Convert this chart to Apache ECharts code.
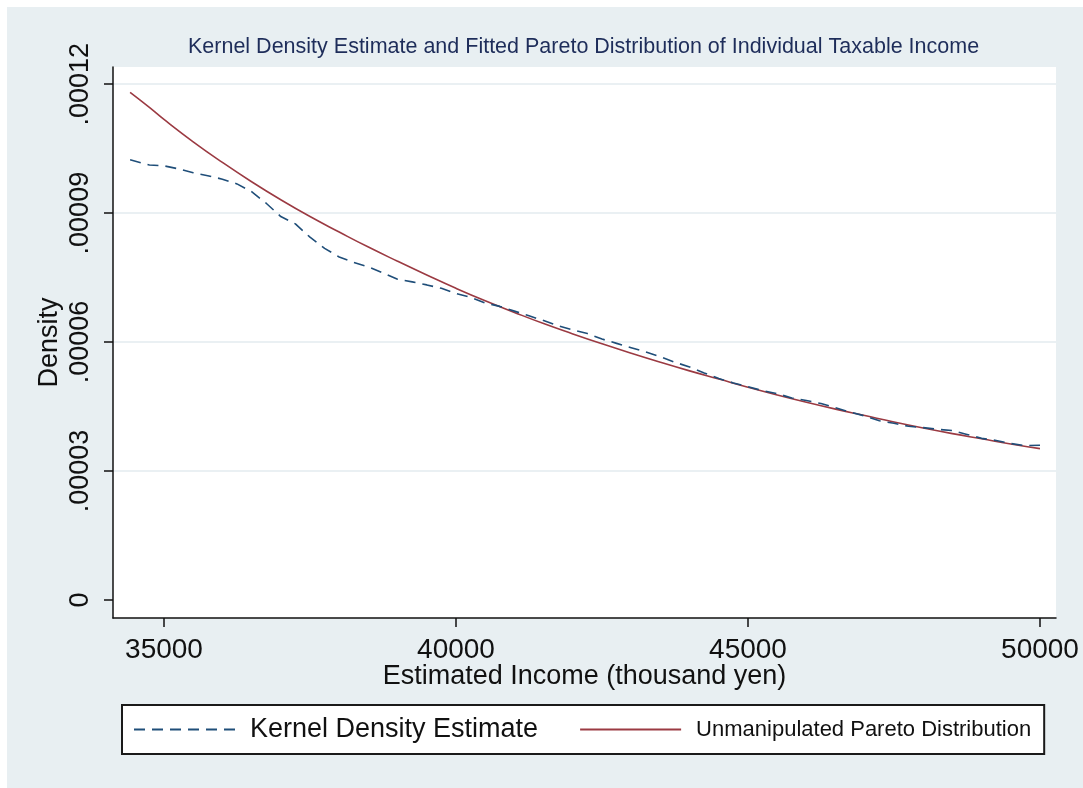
<!DOCTYPE html>
<html>
<head>
<meta charset="utf-8">
<title>Kernel Density Estimate and Fitted Pareto Distribution</title>
<script src="https://cdn.jsdelivr.net/npm/echarts@6/dist/echarts.min.js"></script>
<style>
  html, body { margin: 0; padding: 0; width: 1083px; height: 788px; overflow: hidden; background: #e8eff2; }
  /* thin white frame along the top and left edges */
  body::before { content: ''; position: absolute; left: 0; top: 0; width: 1083px; height: 7px; background: #ffffff; z-index: 2; }
  body::after { content: ''; position: absolute; left: 0; top: 0; width: 7px; height: 788px; background: #ffffff; z-index: 2; }
  #chart { position: absolute; left: 7px; top: 7px; width: 1076px; height: 781px; }
</style>
</head>
<body>
<div id="chart"></div>
<script>
// Income grid (thousand yen) for the kernel density estimate
const kdeIncome = [34420, 34750,
  35000, 35250, 35500, 35750, 36000, 36250, 36500, 36750, 37000, 37250,
  37500, 37750, 38000, 38250, 38500, 38750, 39000, 39250, 39500, 39750,
  40000, 40250, 40500, 40750, 41000, 41250, 41500, 41750, 42000, 42250,
  42500, 42750, 43000, 43250, 43500, 43750, 44000, 44250, 44500, 44750,
  45000, 45250, 45500, 45750, 46000, 46250, 46500, 46750, 47000, 47250,
  47500, 47750, 48000, 48250, 48500, 48750, 49000, 49250, 49500, 49750,
  50000];
const kdeDensity = [0.0001024, 0.0001012,
  0.0001010, 0.0001003, 0.0000994, 0.0000987, 0.0000979, 0.0000968, 0.0000950, 0.0000923, 0.0000892, 0.0000875,
  0.0000844, 0.0000818, 0.0000798, 0.0000785, 0.0000775, 0.0000761, 0.0000746, 0.0000740, 0.0000733, 0.0000725,
  0.0000713, 0.0000704, 0.0000691, 0.0000683, 0.0000672, 0.0000661, 0.0000650, 0.0000638, 0.0000628, 0.0000620,
  0.0000607, 0.0000597, 0.0000587, 0.0000577, 0.0000566, 0.0000553, 0.0000542, 0.0000528, 0.0000515, 0.0000505,
  0.0000496, 0.0000487, 0.0000480, 0.0000470, 0.0000464, 0.0000457, 0.0000447, 0.0000437, 0.0000428, 0.0000417,
  0.0000411, 0.0000404, 0.0000401, 0.0000397, 0.0000394, 0.0000385, 0.0000376, 0.0000371, 0.0000364, 0.0000359,
  0.0000360];

// Fitted (unmanipulated) Pareto density
const paretoIncome = [34420, 34750, 35000, 35500, 36000, 36500, 37000, 37500,
  38000, 38500, 39000, 39500, 40000, 40500, 41000, 41500, 42000, 42500,
  43000, 43500, 44000, 44500, 45000, 45500, 46000, 46500, 47000, 47500,
  48000, 48500, 49000, 49500, 50000];
const paretoDensity = [0.0001181, 0.0001146, 0.0001118, 0.0001066, 0.0001018, 0.0000973, 0.0000931, 0.0000892,
  0.0000856, 0.0000821, 0.0000788, 0.0000756, 0.0000725, 0.0000696, 0.0000669, 0.0000643, 0.0000619, 0.0000596,
  0.0000574, 0.0000553, 0.0000533, 0.0000514, 0.0000495, 0.0000477, 0.0000460, 0.0000444, 0.0000429, 0.0000414,
  0.0000400, 0.0000387, 0.0000375, 0.0000363, 0.0000352];

// Axis tick positions
const xTicks = [35000, 40000, 45000, 50000];
const yTicks = [0, 0.00003, 0.00006, 0.00009, 0.00012];

const seriesNames = ['Kernel Density Estimate', 'Unmanipulated Pareto Distribution'];
const titleText = 'Kernel Density Estimate and Fitted Pareto Distribution of Individual Taxable Income';

const FONT = 'Liberation Sans, Arial, sans-serif';
const INK = '#111111';
const KDE_COLOR = '#1f4e79';
const PARETO_COLOR = '#9b3a42';
const GRID_LINE = '#e3ebef';

const pairs = (xs, ys) => xs.map((x, i) => [x, ys[i]]);

const chart = echarts.init(document.getElementById('chart'), null, { renderer: 'canvas' });

chart.setOption({
  backgroundColor: '#e8eff2',
  animation: false,
  title: {
    text: titleText,
    left: 181,
    top: 29,
    padding: 0,
    textStyle: { fontFamily: FONT, fontSize: 21.5, fontWeight: 'normal', color: '#1e2d5a' }
  },
  grid: {
    left: 106, top: 60, width: 943, height: 551,
    show: true, backgroundColor: '#ffffff', borderWidth: 0
  },
  xAxis: {
    type: 'value',
    min: 34127, max: 50274,
    name: 'Estimated Income (thousand yen)',
    nameLocation: 'middle',
    nameGap: 45,
    nameMoveOverlap: false,
    nameTextStyle: { fontFamily: FONT, fontSize: 27, color: INK },
    axisLine: { show: true, onZero: false, lineStyle: { color: INK, width: 1.5 } },
    axisTick: { show: true, length: 9, customValues: xTicks, lineStyle: { color: INK, width: 1.5 } },
    axisLabel: {
      customValues: xTicks,
      fontFamily: FONT, fontSize: 28, color: INK, margin: 18,
      formatter: v => String(v)
    },
    splitLine: { show: false }
  },
  yAxis: {
    type: 'value',
    min: -0.0000042, max: 0.000124,
    name: 'Density',
    nameLocation: 'middle',
    nameGap: 50,
    nameMoveOverlap: false,
    nameTextStyle: { fontFamily: FONT, fontSize: 27, color: INK },
    axisLine: { show: true, onZero: false, lineStyle: { color: INK, width: 1.5 } },
    axisTick: { show: true, length: 9, customValues: yTicks, lineStyle: { color: INK, width: 1.5 } },
    axisLabel: {
      customValues: yTicks,
      rotate: 90,
      margin: 19,
      fontFamily: FONT, fontSize: 27, color: INK,
      formatter: v => (v === 0 ? '0' : v.toFixed(5).replace(/^0/, ''))
    },
    splitLine: {
      show: true,
      lineStyle: { color: ['rgba(0,0,0,0)', GRID_LINE, GRID_LINE, GRID_LINE, GRID_LINE], width: 1.5 }
    }
  },
  legend: {
    left: 115, top: 698,
    orient: 'horizontal',
    backgroundColor: '#ffffff',
    borderColor: '#1a1a1a',
    borderWidth: 2,
    borderRadius: 0,
    padding: [11, 13, 11, 11],
    itemGap: 41,
    itemWidth: 101,
    itemHeight: 4,
    itemStyle: { opacity: 0 },
    textStyle: { fontFamily: FONT, color: INK, padding: [0, 0, 0, 10] },
    data: [
      { name: seriesNames[0], textStyle: { fontSize: 27 } },
      { name: seriesNames[1], textStyle: { fontSize: 22 } }
    ]
  },
  series: [
    {
      name: seriesNames[0],
      type: 'line',
      data: pairs(kdeIncome, kdeDensity),
      symbol: 'none',
      smooth: false,
      lineStyle: { color: KDE_COLOR, width: 1.6, type: [11, 7] },
      itemStyle: { color: KDE_COLOR },
      z: 3
    },
    {
      name: seriesNames[1],
      type: 'line',
      data: pairs(paretoIncome, paretoDensity),
      symbol: 'none',
      smooth: true,
      lineStyle: { color: PARETO_COLOR, width: 1.6 },
      itemStyle: { color: PARETO_COLOR },
      z: 2
    }
  ]
});
</script>
</body>
</html>
